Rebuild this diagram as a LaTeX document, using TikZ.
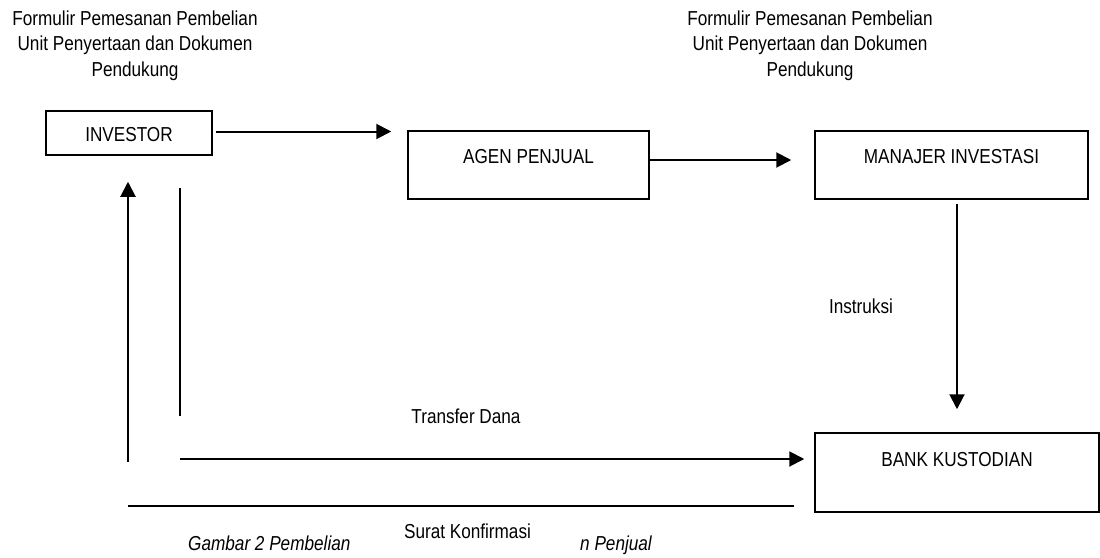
\documentclass[tikz,border=0pt]{standalone}
\usepackage{fontspec}
\setmainfont{Liberation Sans}[FakeStretch=0.85]
\usetikzlibrary{arrows.meta}
\begin{document}
\begin{tikzpicture}[x=1pt,y=-1pt,
  txt/.style={font=\fontsize{20.2}{25.5}\selectfont, inner sep=0pt, text=black},
  itxt/.style={txt, font=\fontsize{20.2}{25.5}\selectfont\itshape},
  box/.style={draw, line width=1.5pt, inner sep=0pt, font=\fontsize{20.2}{25.5}\selectfont, anchor=base},
  conn/.style={line width=2pt, -{Triangle[length=15pt,width=15pt]}},
  plainline/.style={line width=2pt},
  thinline/.style={line width=1.4pt}]
\useasboundingbox (0,0) rectangle (1100,557);

% boxes
\node[box, minimum width=166pt, text height=30pt, text depth=14pt] (inv) at (129,141) {INVESTOR};
\node[box, minimum width=241pt, text height=32.5pt, text depth=35.5pt] (agen) at (528.5,163.5) {AGEN PENJUAL};
\node[box, minimum width=273pt, text height=32pt, text depth=36pt] (man) at (951.5,163) {MANAJER INVESTASI};
\node[box, minimum width=284pt, text height=33pt, text depth=46pt] (bank) at (957,466) {BANK KUSTODIAN};

% texts
\node[txt, align=center, anchor=north] (f1) at (135,10.5) {Formulir Pemesanan Pembelian\\Unit Penyertaan dan Dokumen\\Pendukung};
\node[txt, align=center, anchor=north] (f2) at (810,10.5) {Formulir Pemesanan Pembelian\\Unit Penyertaan dan Dokumen\\Pendukung};
\node[txt, anchor=base] (instr) at (861,313) {Instruksi};
\node[txt, anchor=base] (tdana) at (466,423) {Transfer Dana};
\node[txt, anchor=base] (surat) at (467.5,538) {Surat Konfirmasi};
\node[itxt, anchor=base west] (cap1) at (188,550) {Gambar 2 Pembelian};
\node[itxt, anchor=base west] (cap2) at (580,550) {n Penjual};

% free ends
\coordinate (upbot) at (128,462);
\coordinate (l2top) at (180,188);
\coordinate (l2bot) at (180,416);
\coordinate (tstart) at (180,459);
\coordinate (b1) at (128,506);
\coordinate (b2) at (794,506);

% connectors
\draw[conn, shorten >=16pt] ([xshift=3pt,yshift=1.5pt]inv.east) -- ([yshift=1.5pt]inv.east -| agen.west);
\draw[conn, shorten >=23pt] ([yshift=5pt]agen.east) -- ([yshift=5pt]agen.east -| man.west);
\draw[conn, shorten <=4pt, shorten >=23pt] (bank.north |- man.south) -- (bank.north);
\draw[conn, shorten >=10pt] (tstart) -- (tstart -| bank.west);
\draw[conn, shorten >=26pt] (upbot) -- (upbot |- inv.south);
\draw[plainline] (l2top) -- (l2bot);
\draw[thinline] (b1) -- (b2);
\end{tikzpicture}
\end{document}
